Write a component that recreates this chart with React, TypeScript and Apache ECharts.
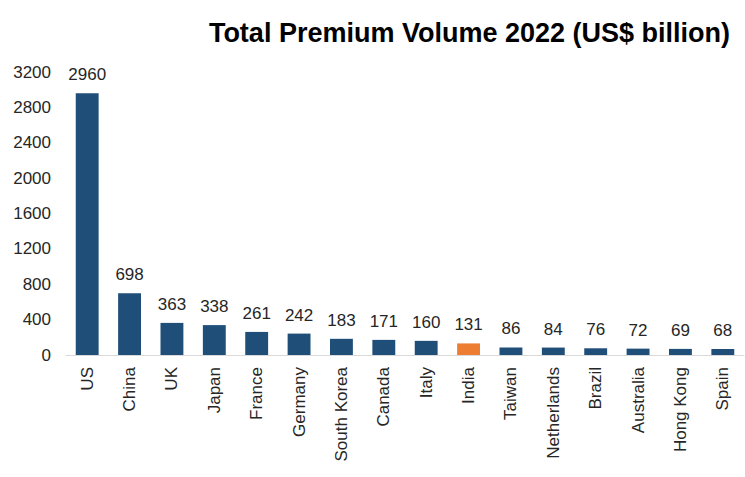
import React, { useEffect, useRef } from "react";
import * as echarts from "echarts";

const categories = ["US", "China", "UK", "Japan", "France", "Germany", "South Korea", "Canada", "Italy", "India", "Taiwan", "Netherlands", "Brazil", "Australia", "Hong Kong", "Spain"];
const values = [2960, 698, 363, 338, 261, 242, 183, 171, 160, 131, 86, 84, 76, 72, 69, 68];
const highlight = "India";
const titleText = "Total Premium Volume 2022 (US$ billion)";

const FONT = "'Liberation Sans', Arial, sans-serif";

export default function App() {
  const ref = useRef<HTMLDivElement>(null);
  useEffect(() => {
    if (!ref.current) return;
    const chart = echarts.init(ref.current, undefined, { renderer: "svg" });
    chart.setOption({
      animation: false,
      backgroundColor: "#ffffff",
      title: {
        text: titleText,
        right: 10,
        top: 14,
        textStyle: { fontFamily: FONT, fontWeight: "bold", fontSize: 27, color: "#000000" },
      },
      grid: { left: 66, right: 1, top: 72, bottom: 122, containLabel: false },
      xAxis: {
        type: "category",
        data: categories,
        axisLine: { show: true, lineStyle: { color: "#d9d9d9", width: 1 } },
        axisTick: { show: false },
        axisLabel: { rotate: 90, fontFamily: FONT, fontSize: 17, color: "#262626", margin: 12, interval: 0 },
      },
      yAxis: {
        type: "value",
        min: 0,
        max: 3200,
        interval: 400,
        splitLine: { show: false },
        axisLine: { show: false },
        axisTick: { show: false },
        axisLabel: { fontFamily: FONT, fontSize: 17, color: "#262626", margin: 15, formatter: (v: number) => String(v) },
      },
      series: [
        {
          type: "bar",
          barWidth: "54%",
          data: values.map((v, i) => ({
            value: v,
            itemStyle: { color: categories[i] === highlight ? "#ED7D31" : "#1F4E79" },
          })),
          label: { show: true, position: "top", distance: 10, fontFamily: FONT, fontSize: 17, color: "#262626" },
        },
      ],
    });
    return () => chart.dispose();
  }, []);
  return <div ref={ref} style={{ width: 745, height: 477, position: "absolute", left: 0, top: 0 }} />;
}
